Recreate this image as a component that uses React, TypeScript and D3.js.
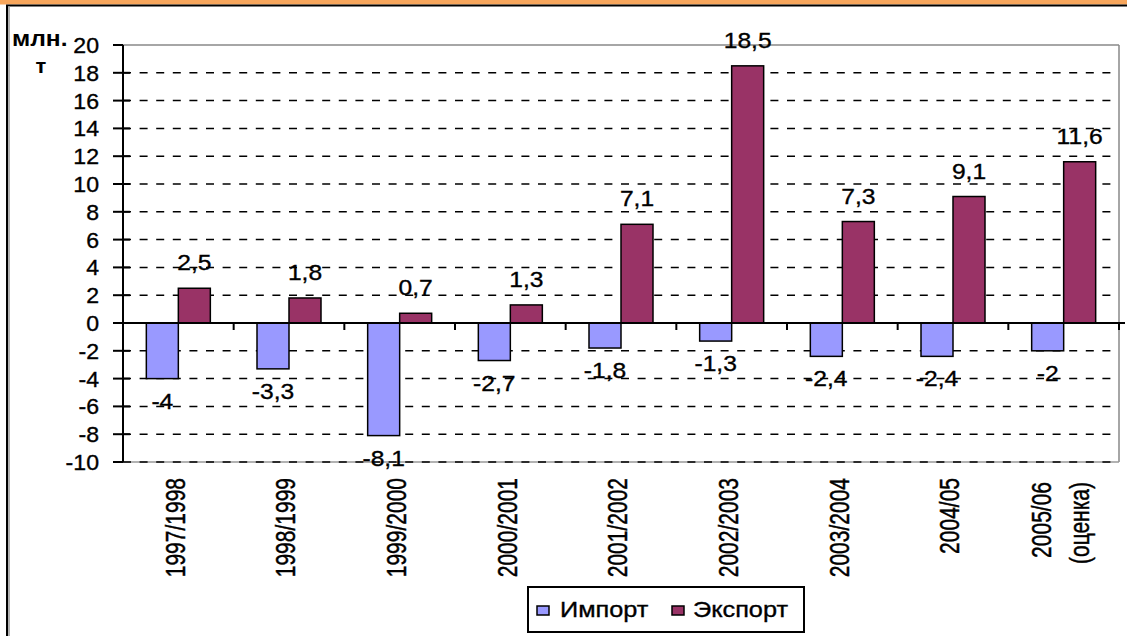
import React from "react";
import * as d3 from "d3";

const categories: string[][] = [
  ["1997/1998"],
  ["1998/1999"],
  ["1999/2000"],
  ["2000/2001"],
  ["2001/2002"],
  ["2002/2003"],
  ["2003/2004"],
  ["2004/05"],
  ["2005/06", "(оценка)"],
];
const importValues = [-4, -3.3, -8.1, -2.7, -1.8, -1.3, -2.4, -2.4, -2];
const exportValues = [2.5, 1.8, 0.7, 1.3, 7.1, 18.5, 7.3, 9.1, 11.6];
const yTicks = [20, 18, 16, 14, 12, 10, 8, 6, 4, 2, 0, -2, -4, -6, -8, -10];
const seriesNames = ["Импорт", "Экспорт"];
const seriesColors = ["#9999FF", "#993366"];

const W = 1127;
const H = 636;
const FONT = "Arial, 'Liberation Sans', sans-serif";

const fmt = (v: number) => String(v).replace(".", ",");

const txt = { fill: "#000", stroke: "#000", strokeWidth: 0.35 };

export default function App() {
  const x = d3
    .scaleBand<number>()
    .domain(d3.range(categories.length))
    .range([123, 1119])
    .paddingInner(0)
    .paddingOuter(0);
  const y = d3.scaleLinear().domain([-10, 20]).range([462, 45]);
  const bw = 32;
  const bandW = x.bandwidth();
  const x0 = 123;
  const x1 = 1119;
  const y0 = y(0);

  return (
    <svg
      width={W}
      height={H}
      style={{ position: "fixed", left: 0, top: 0, background: "#fff" }}
      fontFamily={FONT}
    >
      <rect x={0} y={0} width={W} height={H} fill="#fff" />
      {/* outer frame */}
      <rect x={0} y={0} width={W} height={4.5} fill="#F7A65C" />
      <line x1={6} x2={W} y1={5.5} y2={5.5} stroke="#000" strokeWidth={2} />
      <line x1={7} x2={7} y1={5} y2={H} stroke="#000" strokeWidth={2} />
      <line x1={9} x2={9} y1={6} y2={H} stroke="#999" strokeWidth={1.5} />

      {/* plot border */}
      <line x1={x0} x2={x1} y1={y(20)} y2={y(20)} stroke="#888" strokeWidth={1.5} />
      <line x1={x1} x2={x1} y1={y(20)} y2={y(-10)} stroke="#888" strokeWidth={1.5} />
      <line x1={x0} x2={x1} y1={y(-10)} y2={y(-10)} stroke="#999" strokeWidth={1.5} />

      {/* gridlines */}
      {yTicks
        .filter((t) => t !== 20 && t !== 0)
        .map((t) => (
          <line
            key={"g" + t}
            x1={x0}
            x2={x1}
            y1={y(t)}
            y2={y(t)}
            stroke="#000"
            strokeWidth={1.5}
            strokeDasharray="8,8.6"
          />
        ))}

      {/* bars */}
      {categories.map((_, i) => {
        const cx = (x(i) as number) + bandW / 2;
        const vi = importValues[i];
        const ve = exportValues[i];
        return (
          <g key={"b" + i}>
            <rect
              x={cx - bw}
              y={Math.min(y(vi), y0)}
              width={bw}
              height={Math.abs(y(vi) - y0)}
              fill={seriesColors[0]}
              stroke="#000"
              strokeWidth={1.5}
            />
            <rect
              x={cx}
              y={Math.min(y(ve), y0)}
              width={bw}
              height={Math.abs(y(ve) - y0)}
              fill={seriesColors[1]}
              stroke="#000"
              strokeWidth={1.5}
            />
          </g>
        );
      })}

      {/* zero axis line and category ticks */}
      <line x1={x0} x2={x1 + 6} y1={y0} y2={y0} stroke="#000" strokeWidth={2} />
      {d3.range(1, categories.length + 1).map((i) => {
        const tx = x0 + i * bandW;
        return <line key={"ct" + i} x1={tx} x2={tx} y1={y0} y2={y0 + 7} stroke="#000" strokeWidth={2} />;
      })}

      {/* y axis */}
      <line x1={x0} x2={x0} y1={y(20)} y2={y(-10)} stroke="#000" strokeWidth={2} />
      {yTicks.map((t) => (
        <line
          key={"yt" + t}
          x1={x0 - 10}
          x2={t === 20 || t === -10 ? x0 : x0 + 7}
          y1={y(t)}
          y2={y(t)}
          stroke="#000"
          strokeWidth={2}
        />
      ))}
      {yTicks.map((t) => (
        <text
          key={"yl" + t}
          transform={`translate(99,${y(t)}) scale(1.05,1)`}
          textAnchor="end"
          dy="0.36em"
          fontSize={22}
          {...txt}
        >
          {String(t)}
        </text>
      ))}

      {/* unit label */}
      <text transform="translate(12,46) scale(1.12,1)" fontSize={22} fontWeight="bold" fill="#000">
        млн.
      </text>
      <text transform="translate(41,73) scale(1.1,1)" fontSize={20} fontWeight="bold" textAnchor="middle" fill="#000">
        т
      </text>

      {/* data labels */}
      {categories.map((_, i) => {
        const cx = (x(i) as number) + bandW / 2;
        const vi = importValues[i];
        const ve = exportValues[i];
        return (
          <g key={"dl" + i}>
            <text
              transform={`translate(${cx + bw / 2},${y(ve) - 18}) scale(1.12,1)`}
              textAnchor="middle"
              fontSize={22}
              {...txt}
            >
              {fmt(ve)}
            </text>
            <text
              transform={`translate(${cx - bw / 2},${y(vi) + 30}) scale(1.12,1)`}
              textAnchor="middle"
              fontSize={22}
              {...txt}
            >
              {fmt(vi)}
            </text>
          </g>
        );
      })}

      {/* category labels */}
      {categories.map((lines, i) => {
        const cx = (x(i) as number) + bandW / 2;
        const n = lines.length;
        return lines.map((ln, j) => {
          const off = (j - (n - 1) / 2) * 38;
          return (
            <text
              key={"cl" + i + "-" + j}
              transform={`translate(${cx - 4 + off},${n > 1 ? 482 : 478}) scale(1.35,1) rotate(-90)`}
              textAnchor="end"
              dy="0.36em"
              fontSize={21}
              {...txt}
            >
              {ln}
            </text>
          );
        });
      })}

      {/* legend */}
      <rect x={528} y={587} width={276} height={45} fill="#fff" stroke="#000" strokeWidth={2} />
      <rect x={537} y={606} width={12} height={9} fill={seriesColors[0]} stroke="#000" strokeWidth={1.5} />
      <text transform="translate(560,617) scale(1.15,1)" fontSize={22} {...txt}>
        {seriesNames[0]}
      </text>
      <rect x={672} y={606} width={12} height={9} fill={seriesColors[1]} stroke="#000" strokeWidth={1.5} />
      <text transform="translate(693,617) scale(1.15,1)" fontSize={22} {...txt}>
        {seriesNames[1]}
      </text>
    </svg>
  );
}
